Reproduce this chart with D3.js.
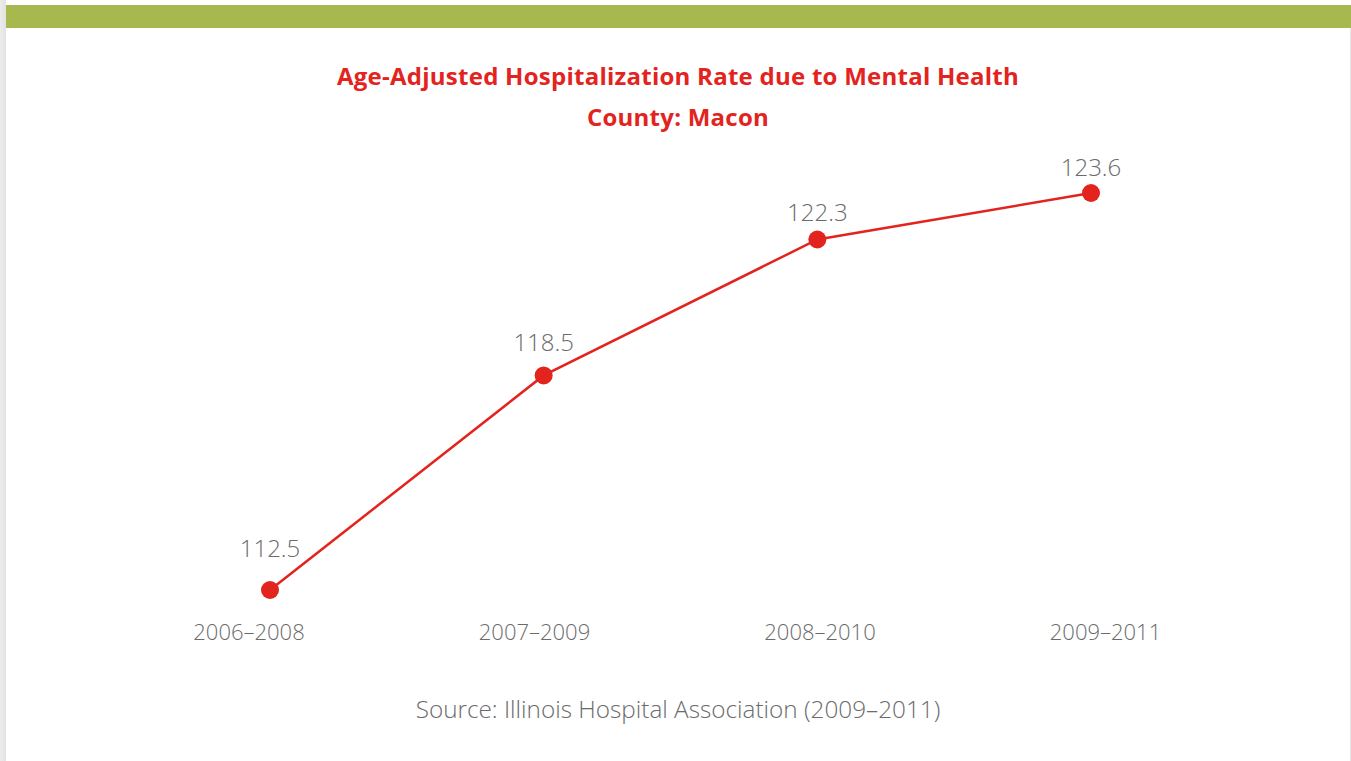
<!DOCTYPE html>
<html><head><meta charset="utf-8">
<script src="https://cdn.jsdelivr.net/npm/d3@7"></script>
<style>html,body{margin:0;padding:0;background:#fff;overflow:hidden}</style>
</head><body>
<svg id="chart" width="1351" height="761"></svg>
<script>
const titleLines = ["Age-Adjusted Hospitalization Rate due to Mental Health", "County: Macon"];
const categories = ["2006\u20132008", "2007\u20132009", "2008\u20132010", "2009\u20132011"];
const values = [112.5, 118.5, 122.3, 123.6];
const valueLabels = ["112.5", "118.5", "122.3", "123.6"];
const sourceText = "Source: Illinois Hospital Association (2009\u20132011)";

const svg = d3.select("#chart");
const red = "#e3231d";
const grey = "#6b6b6b";

// frame
const defs = svg.append("defs");
const g1 = defs.append("linearGradient").attr("id","lshadow").attr("x1","0").attr("x2","1");
g1.append("stop").attr("offset","0").attr("stop-color","#ececec");
g1.append("stop").attr("offset","1").attr("stop-color","#e2e2e2");
svg.append("rect").attr("x",0).attr("y",0).attr("width",6).attr("height",761).attr("fill","url(#lshadow)");
svg.append("rect").attr("x",1350).attr("y",28).attr("width",1).attr("height",733).attr("fill","#e6e6e6");
svg.append("rect").attr("x",6).attr("y",5).attr("width",1345).attr("height",23).attr("fill","#a7b84f");

// title
svg.append("g").selectAll("text").data(titleLines).join("text")
  .attr("x", 678).attr("y", (d,i) => 85 + i*41)
  .attr("text-anchor","middle")
  .attr("font-family","'Open Sans', sans-serif").attr("font-weight",700)
  .attr("font-size",24).attr("letter-spacing",0.25).attr("fill",red).text(d => d);

const x = d3.scalePoint().domain(categories).range([270, 1091]);
const xLab = d3.scalePoint().domain(categories).range([248.5, 1105]);
const y = d3.scaleLinear().domain([112.5, 123.6]).range([590, 193]);
const yLab = d3.scaleLinear().domain([112.5, 123.6]).range([557, 176]);

const xAxis = d3.axisBottom(xLab).tickSize(0).tickPadding(0);
const ax = svg.append("g").attr("transform","translate(0,624)").call(xAxis);
ax.select(".domain").remove();
ax.selectAll("text").attr("font-family","'Open Sans', sans-serif").attr("font-weight",300)
  .attr("font-size",22).attr("fill",grey).attr("dy","0.74em");

const data = categories.map((c,i) => ({c, v: values[i], l: valueLabels[i]}));
svg.append("path").datum(data)
  .attr("d", d3.line().x(d => x(d.c)).y(d => y(d.v)))
  .attr("fill","none").attr("stroke",red).attr("stroke-width",2.5);
svg.append("g").selectAll("circle").data(data).join("circle")
  .attr("cx", d => x(d.c)).attr("cy", d => y(d.v)).attr("r", 9).attr("fill", red);
svg.append("g").selectAll("text").data(data).join("text")
  .attr("x", d => x(d.c)).attr("y", d => yLab(d.v))
  .attr("text-anchor","middle")
  .attr("font-family","'Open Sans', sans-serif").attr("font-weight",300)
  .attr("font-size",24).attr("fill",grey).text(d => d.l);

svg.append("text").attr("x",678).attr("y",718).attr("text-anchor","middle")
  .attr("font-family","'Open Sans', sans-serif").attr("font-weight",300)
  .attr("font-size",24.3).attr("fill",grey).text(sourceText);
</script>
</body></html>
